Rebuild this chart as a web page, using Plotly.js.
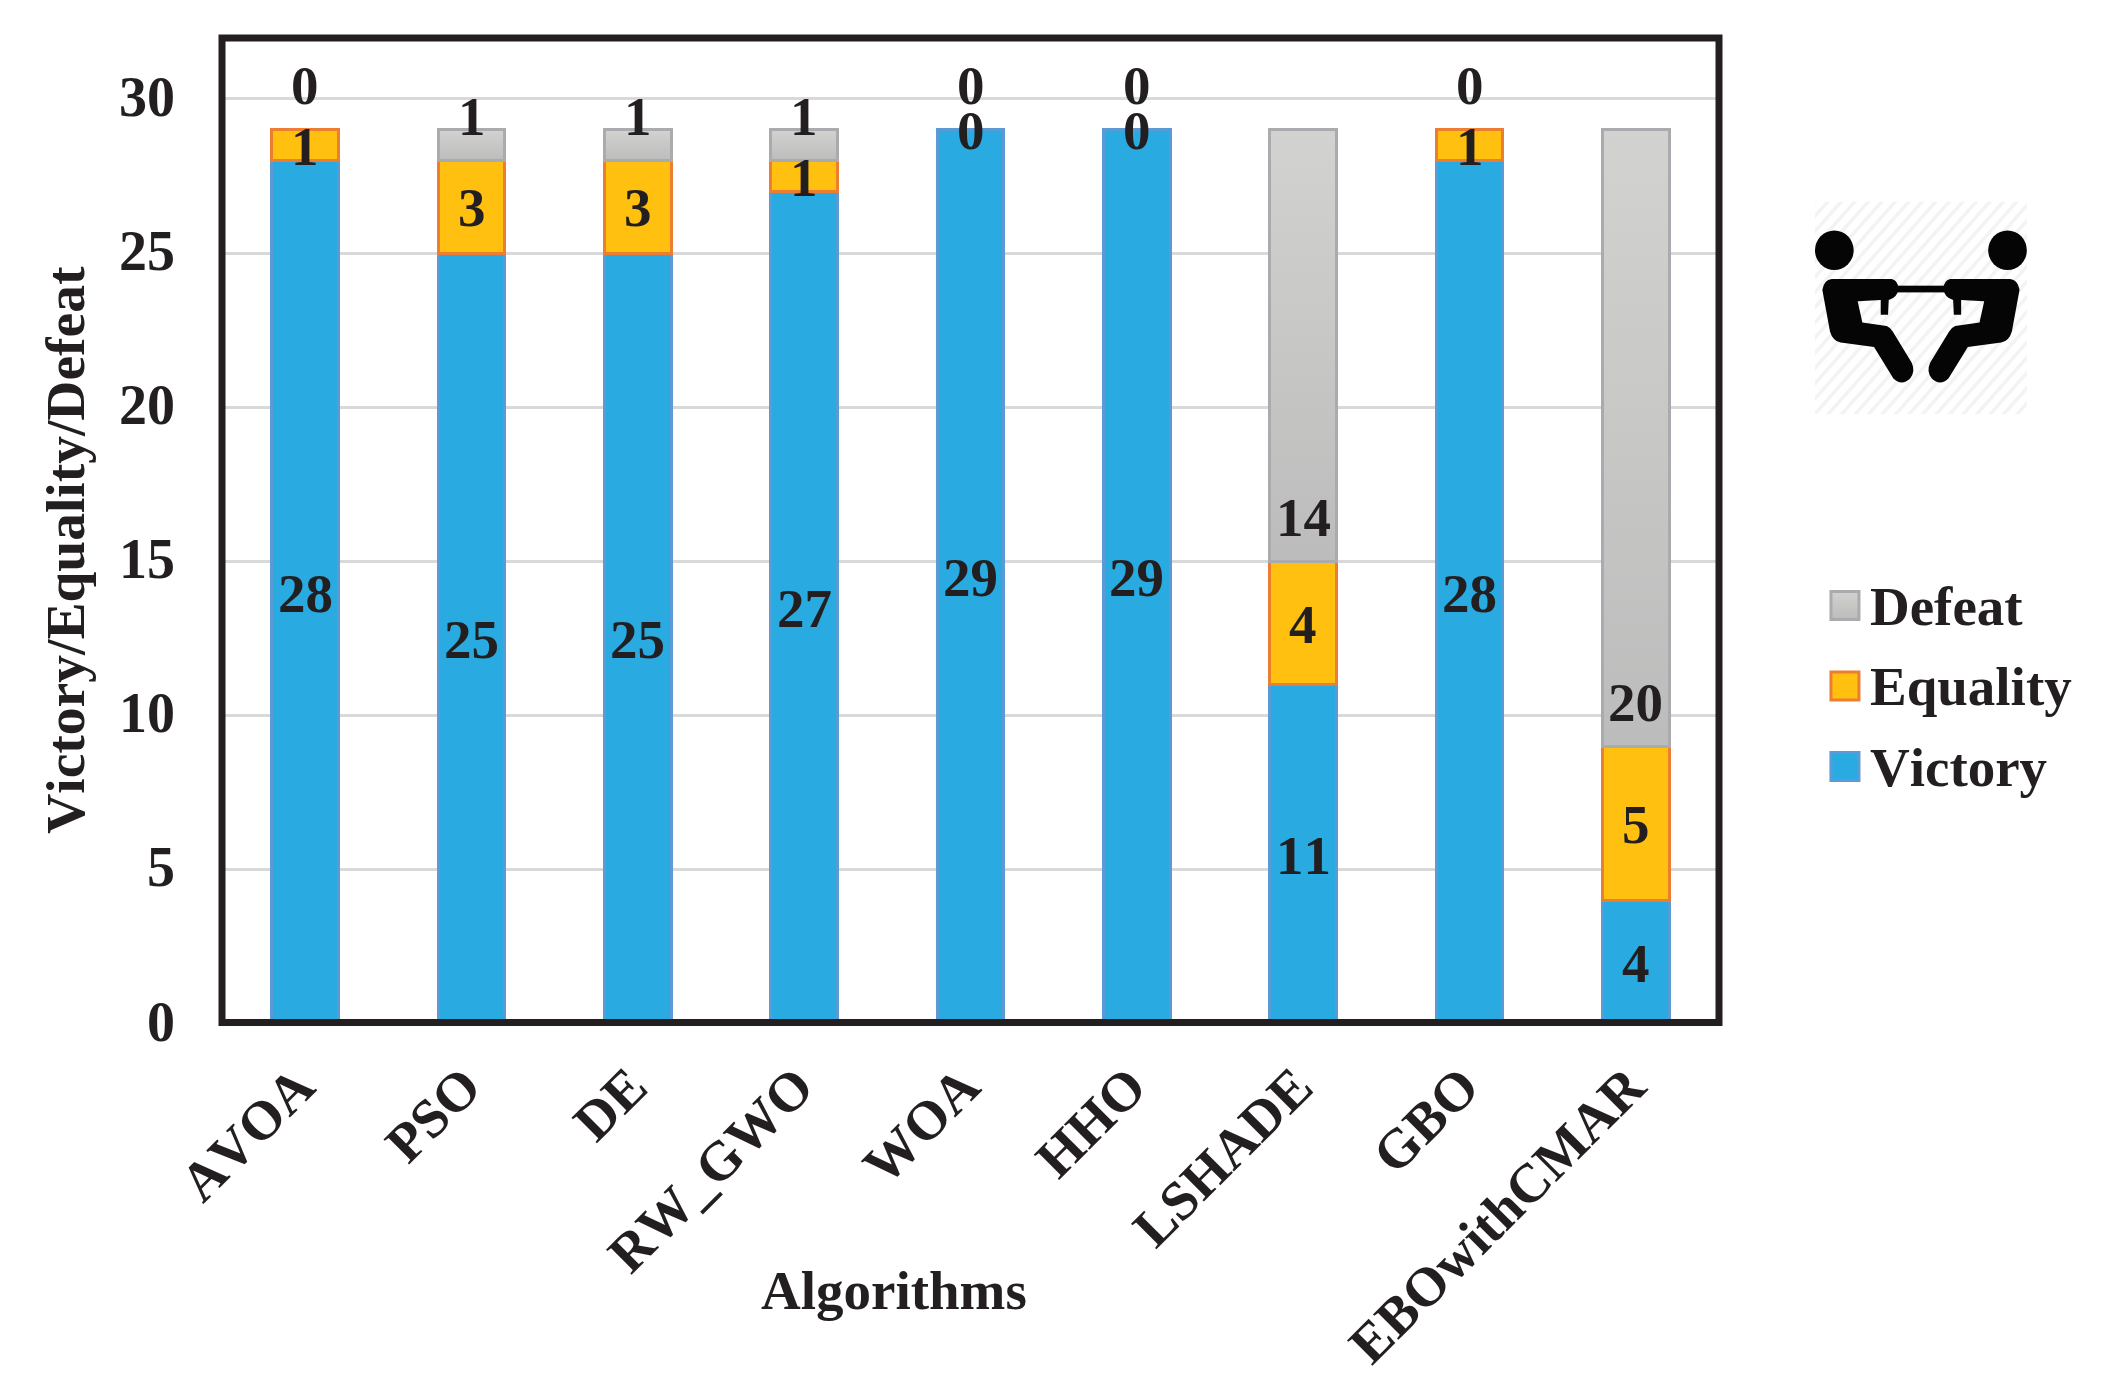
<!DOCTYPE html>
<html>
<head>
<meta charset="utf-8">
<script src="https://cdn.plot.ly/plotly-3.0.1.min.js"></script>
<style>html,body{margin:0;padding:0;background:#fff} svg text{font-kerning:none}</style>
</head>
<body>
<div id="chart" style="width:2103px;height:1395px"></div>
<script>
const algorithms = ["AVOA","PSO","DE","RW_GWO","WOA","HHO","LSHADE","GBO","EBOwithCMAR"];
const victory  = [28,25,25,27,29,29,11,28,4];
const equality = [1,3,3,1,0,0,4,1,5];
const defeat   = [0,1,1,1,0,0,14,0,20];
const yTicks   = [0,5,10,15,20,25,30];

const W = 2103, H = 1395;
const INK = "#231F20";
const FONT = "'Liberation Serif','Times New Roman',serif";
const SIZE = 55;
const plot = {l:221.5, r:1719, t:37.5, b:1024};
const frameBottom = 1022.5;
const pw = plot.r-plot.l, ph = plot.b-plot.t;
const borders = {Victory:"#5B9BD5", Equality:"#ED7D31", Defeat:"#A9ABAE"};

const iconBody = "M217,312Q222,290 245,288L425,288Q445,292 445,310Q442,330 416,335L414,368L392,368L392,335L323,338L337,385L410,393Q420,396 428,405L485,475Q497,495 480,510Q455,528 430,510L372,440L272,430Q248,426 240,405Z";
const icon = `<svg xmlns="http://www.w3.org/2000/svg" viewBox="195 115 635 475" preserveAspectRatio="none">
<defs><pattern id="h" width="26" height="26" patternUnits="userSpaceOnUse" patternTransform="rotate(-40)"><rect width="26" height="26" fill="#fff"/><rect width="26" height="9" fill="#f3f3f3"/></pattern></defs>
<rect x="195" y="115" width="635" height="475" fill="url(#h)"/>
<g fill="#050505"><rect x="430" y="303" width="165" height="15"/>
<ellipse cx="253" cy="224" rx="58" ry="44"/><path d="${iconBody}"/>
<ellipse cx="772" cy="224" rx="58" ry="44"/><path transform="translate(1025,0) scale(-1,1)" d="${iconBody}"/></g></svg>`;

function bar(name, values, fill, rank){
  return {type:"bar", name, x:algorithms, y:values, width:0.40, legendgroup:name, legendrank:rank,
    marker:{color:fill, line:{color:borders[name], width:values.map(v=>v===0?0:3)}}, hoverinfo:"name+y"};
}
const traces = [
  bar("Victory", victory, "#29ABE2", 3),
  bar("Equality", equality, "#FFC00F", 2),
  bar("Defeat", defeat, "#C6C6C6", 1)
];

function label(cat, y, v, shift){
  return {x:cat, y, yref:"y", xref:"x", text:String(v), showarrow:false, yanchor:"middle",
    yshift:shift, font:{family:FONT, size:SIZE, color:INK, weight:"bold"}};
}
const anns = [];
algorithms.forEach((c,i)=>{
  anns.push(label(c, victory[i]/2, victory[i], -1));
  anns.push(label(c, victory[i]+equality[i]/2, equality[i], -1));
  anns.push(label(c, victory[i]+equality[i], defeat[i], 44));
});
anns.push({xref:"paper", yref:"paper", x:(893.5-plot.l)/pw, y:(plot.b-1291)/ph, yanchor:"middle",
  text:"<b>Algorithms</b>", showarrow:false, font:{family:FONT,size:55,color:INK}});
anns.push({xref:"paper", yref:"paper", x:(65-plot.l)/pw, y:(plot.b-550)/ph, yanchor:"middle", xanchor:"center", textangle:-90,
  text:"<b>Victory/Equality/Defeat</b>", showarrow:false, font:{family:FONT,size:55.5,color:INK}});

const layout = {
  width:W, height:H, autosize:false, paper_bgcolor:"#fff", plot_bgcolor:"#fff",
  margin:{l:plot.l, r:W-plot.r, t:plot.t, b:H-plot.b, pad:0},
  barmode:"stack", bargap:0.6, hovermode:false,
  font:{family:FONT, size:SIZE, color:INK, weight:"bold"},
  xaxis:{type:"category", showgrid:false, zeroline:false, showline:false, ticks:"",
    tickangle:-45, ticklabelstandoff:18, ticklabelshift:-7, tickfont:{family:FONT,size:SIZE,color:INK,weight:"bold"}, automargin:false},
  yaxis:{range:[0,ph/30.85], tickvals:yTicks, ticktext:yTicks.map(String), showgrid:true, gridcolor:"#D9D9D9", gridwidth:3,
    zeroline:false, showline:false, ticks:"", ticklabelstandoff:46, ticklabelshift:-3, automargin:false,
    tickfont:{family:FONT,size:56,color:INK,weight:"bold"}},
  legend:{x:(1820-plot.l)/pw, xanchor:"left", y:(plot.b-561)/ph, yanchor:"top", traceorder:"grouped",
    itemwidth:40, tracegroupgap:6, bgcolor:"rgba(0,0,0,0)", font:{family:FONT,size:SIZE,color:INK,weight:"bold"}},
  annotations:anns,
  shapes:[{type:"rect", xref:"paper", yref:"paper", x0:0, x1:1, y0:(plot.b-frameBottom)/ph, y1:1,
    line:{color:INK,width:7}, fillcolor:"rgba(0,0,0,0)", layer:"above"}],
  images:[{source:"data:image/svg+xml;charset=utf-8,"+encodeURIComponent(icon), xref:"paper", yref:"paper",
    x:(1815-plot.l)/pw, y:(plot.b-201)/ph,
    sizex:212/pw, sizey:213/ph, sizing:"stretch", xanchor:"left", yanchor:"top", layer:"above"}]
};

Plotly.newPlot("chart", traces, layout, {displayModeBar:false, staticPlot:true}).then(gd=>{
  const svg = gd.querySelector("svg.main-svg");
  const ns = "http://www.w3.org/2000/svg";
  const g = document.createElementNS(ns,"linearGradient");
  g.setAttribute("id","defeatGrad"); g.setAttribute("x1","0"); g.setAttribute("y1","0"); g.setAttribute("x2","0"); g.setAttribute("y2","1");
  [["0","#D2D2D0"],["1","#BCBCBC"]].forEach(([o,c])=>{const s=document.createElementNS(ns,"stop");s.setAttribute("offset",o);s.setAttribute("stop-color",c);g.appendChild(s);});
  svg.querySelector("defs").appendChild(g);
  const groups = gd.querySelectorAll(".barlayer .trace");
  if(groups[2]) groups[2].querySelectorAll("path").forEach(p=>{p.style.fill="url(#defeatGrad)";});
  gd.querySelectorAll(".legend .traces").forEach(t=>{
    const p = t.querySelector(".legendbar path, .legendpoints path, path");
    if(p){
      p.setAttribute("d","M14,16H-14V-12H14Z");
      const name = Object.keys(borders).find(n=>t.textContent.indexOf(n)>=0);
      p.style.stroke = borders[name];
      p.style.strokeOpacity = 1;
      p.style.strokeWidth = "3px";
      if(name==="Defeat") p.style.fill="url(#defeatGrad)";
    }
  });
});
</script>
</body>
</html>
